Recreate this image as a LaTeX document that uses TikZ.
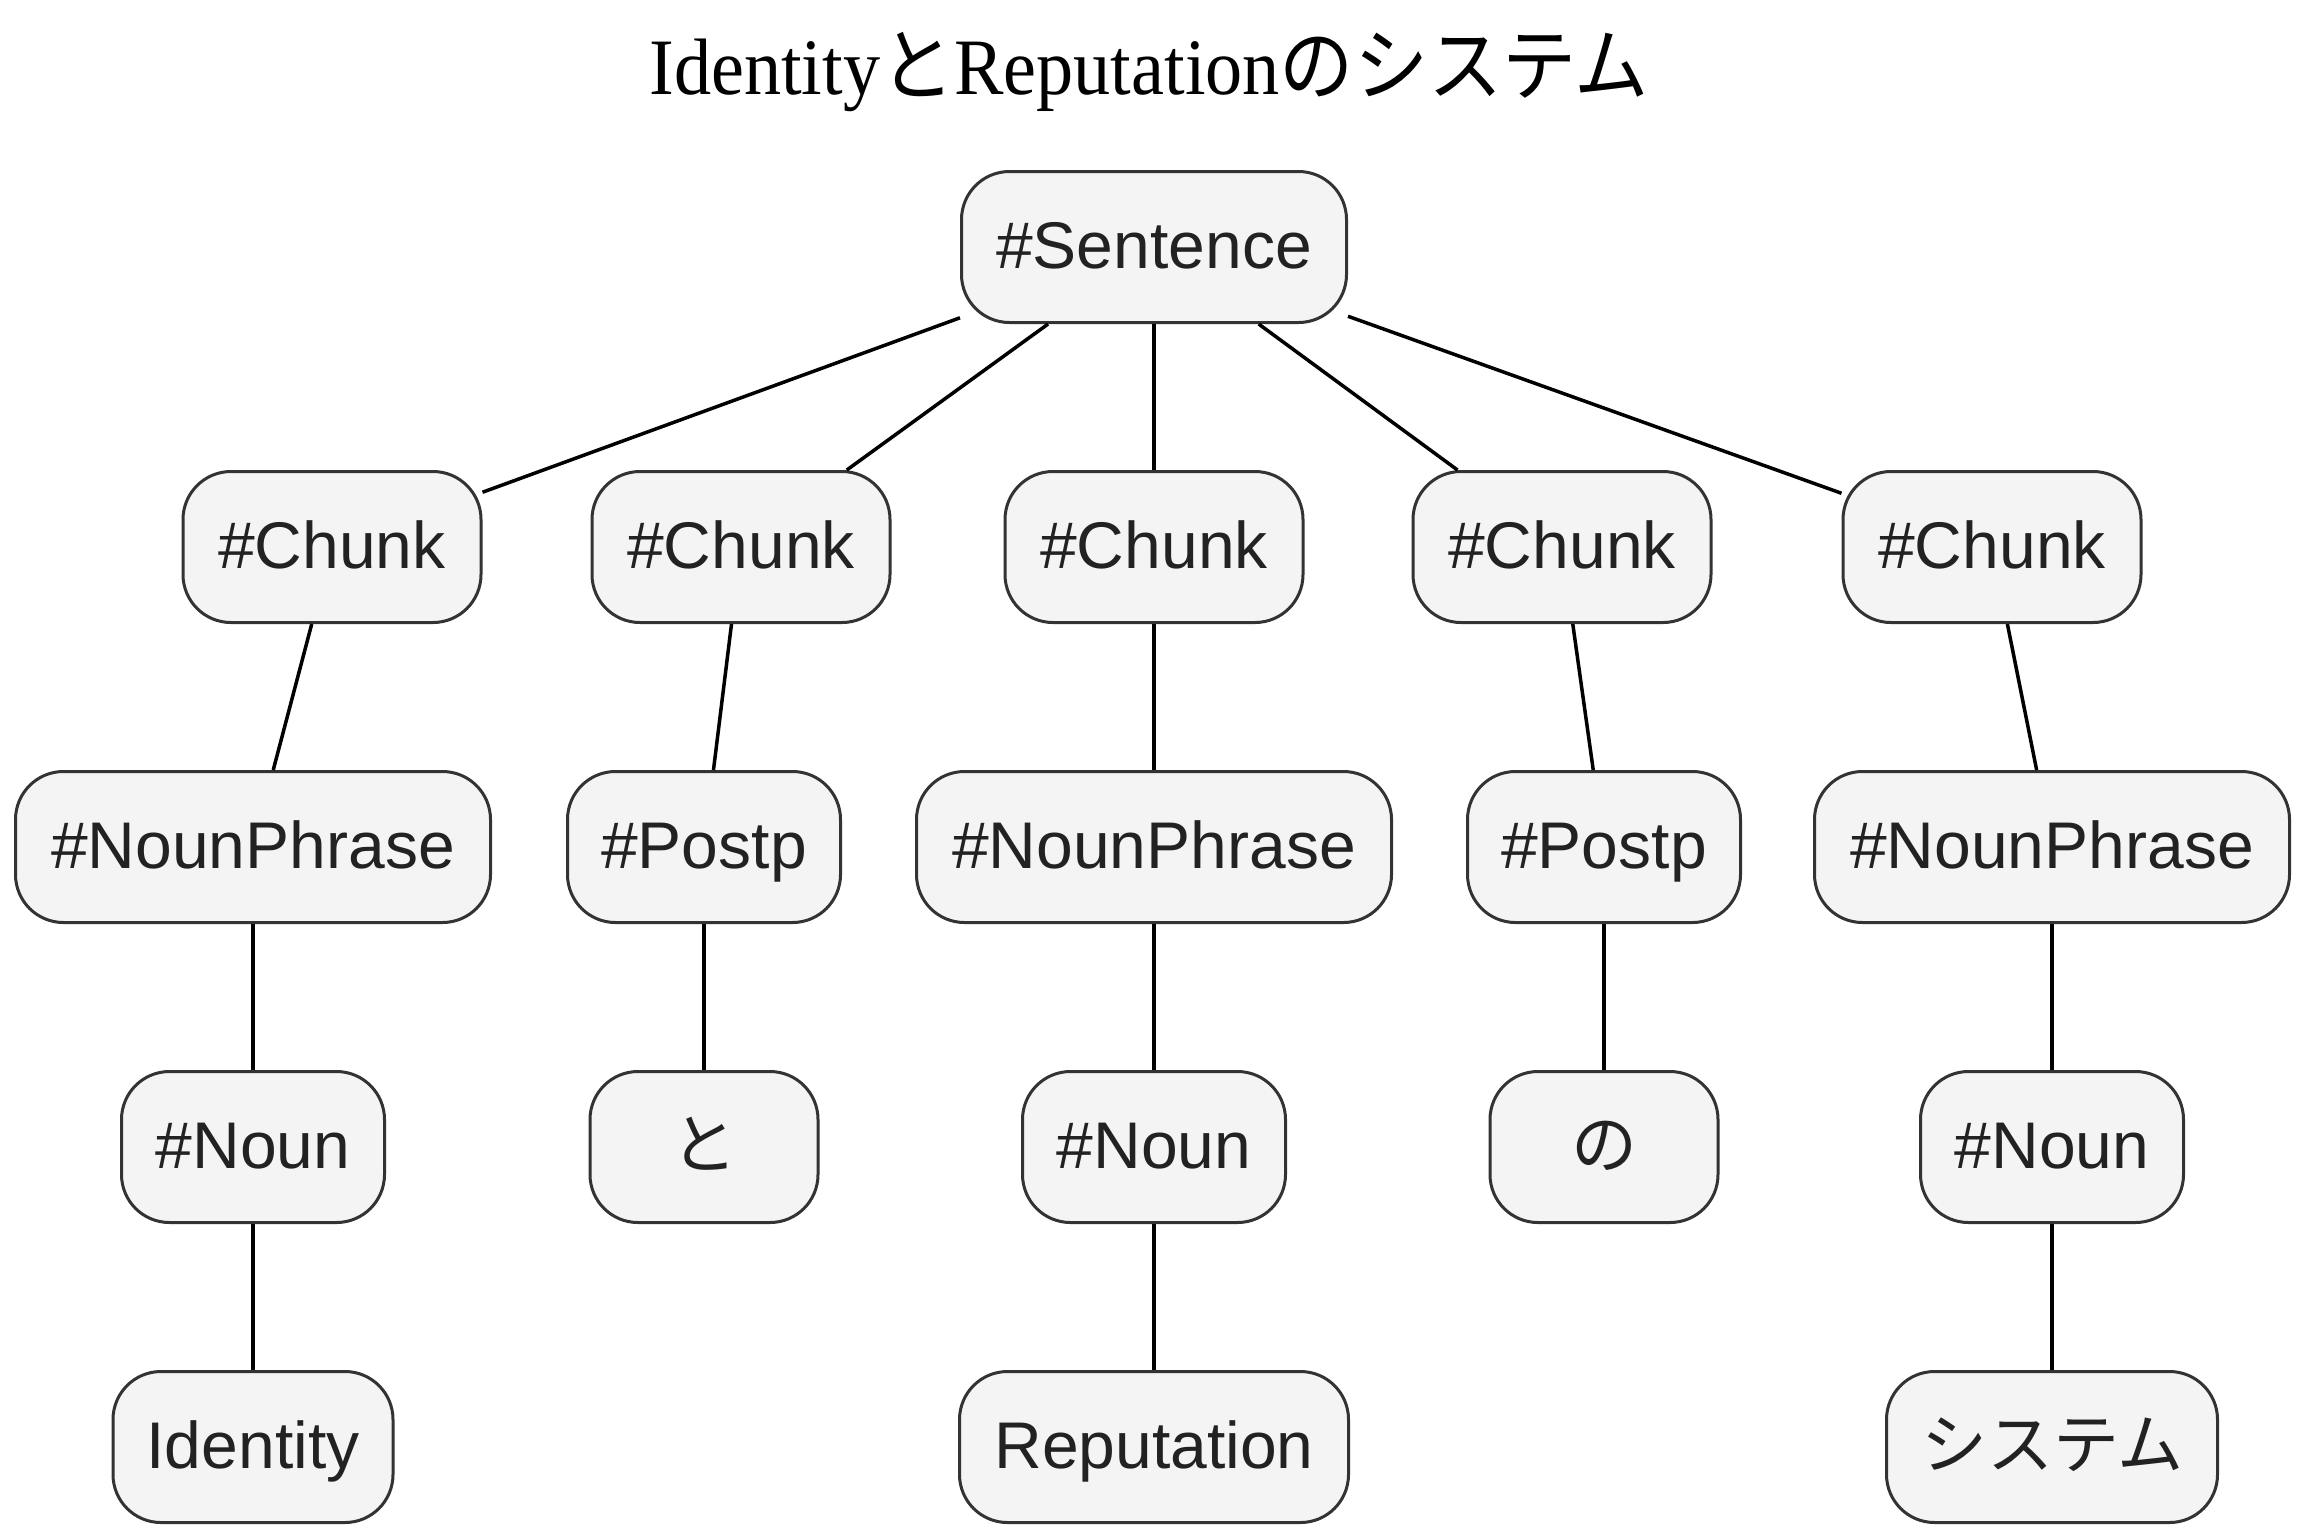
\documentclass[tikz,border=0pt]{standalone}
\usepackage{fontspec}
\setmainfont{Liberation Sans}
\newfontfamily\cjk{Noto Sans CJK JP}
\newfontfamily\titlefont{Liberation Serif}
\definecolor{boxfill}{HTML}{F4F4F4}
\definecolor{boxline}{HTML}{333333}
\definecolor{textcol}{HTML}{222222}
\begin{document}
\begin{tikzpicture}[x=0.5pt,y=-0.5pt,
  box/.style={draw=boxline, line width=1.5pt, fill=boxfill, rounded corners=24pt,
    minimum height=75.5pt, inner sep=0pt, text height=24pt, text depth=3pt,
    font=\fontsize{33}{40}\selectfont, text=textcol},
  edge/.style={draw=black, line width=1.75pt}]
\useasboundingbox (0,0) rectangle (2308,1539);
\node[anchor=base, text=black, inner sep=0pt, font=\titlefont\fontsize{40}{48}\selectfont] (title) at (1149,94) {\scalebox{0.927}[1]{Identity{\cjk と}Reputation{\cjk のシステム}}};
% row 1
\node[box, minimum width=192.5pt] (s) at (1154,247) {\#Sentence};
% row 2
\node[box, minimum width=149pt] (c1) at (332,547) {\#Chunk};
\node[box, minimum width=149pt] (c2) at (741,547) {\#Chunk};
\node[box, minimum width=149pt] (c3) at (1154,547) {\#Chunk};
\node[box, minimum width=149pt] (c4) at (1562,547) {\#Chunk};
\node[box, minimum width=149pt] (c5) at (1992,547) {\#Chunk};
% row 3
\node[box, minimum width=237.5pt] (np1) at (253,847) {\#NounPhrase};
\node[box, minimum width=136.5pt] (pp1) at (704,847) {\#Postp};
\node[box, minimum width=237.5pt] (np2) at (1154,847) {\#NounPhrase};
\node[box, minimum width=136.5pt] (pp2) at (1604,847) {\#Postp};
\node[box, minimum width=237.5pt] (np3) at (2052,847) {\#NounPhrase};
% row 4
\node[box, minimum width=131.5pt] (n1) at (253,1147) {\#Noun};
\node[box, minimum width=114pt] (to) at (704,1147) {\cjk と};
\node[box, minimum width=131.5pt] (n2) at (1154,1147) {\#Noun};
\node[box, minimum width=114pt] (no) at (1604,1147) {\cjk の};
\node[box, minimum width=131.5pt] (n3) at (2052,1147) {\#Noun};
% row 5
\node[box, minimum width=140pt] (w1) at (253,1447) {Identity};
\node[box, minimum width=194.5pt] (w2) at (1154,1447) {Reputation};
\node[box, minimum width=165.5pt] (w3) at (2052,1447) {\cjk システム};
% edges
\foreach \c in {c1,c2,c3,c4,c5} \draw[edge] (s) -- (\c);
\draw[edge] (c1) -- (np1);
\draw[edge] (c2) -- (pp1);
\draw[edge] (c3) -- (np2);
\draw[edge] (c4) -- (pp2);
\draw[edge] (c5) -- (np3);
\draw[edge] (np1) -- (n1);
\draw[edge] (pp1) -- (to);
\draw[edge] (np2) -- (n2);
\draw[edge] (pp2) -- (no);
\draw[edge] (np3) -- (n3);
\draw[edge] (n1) -- (w1);
\draw[edge] (n2) -- (w2);
\draw[edge] (n3) -- (w3);
\end{tikzpicture}
\end{document}
